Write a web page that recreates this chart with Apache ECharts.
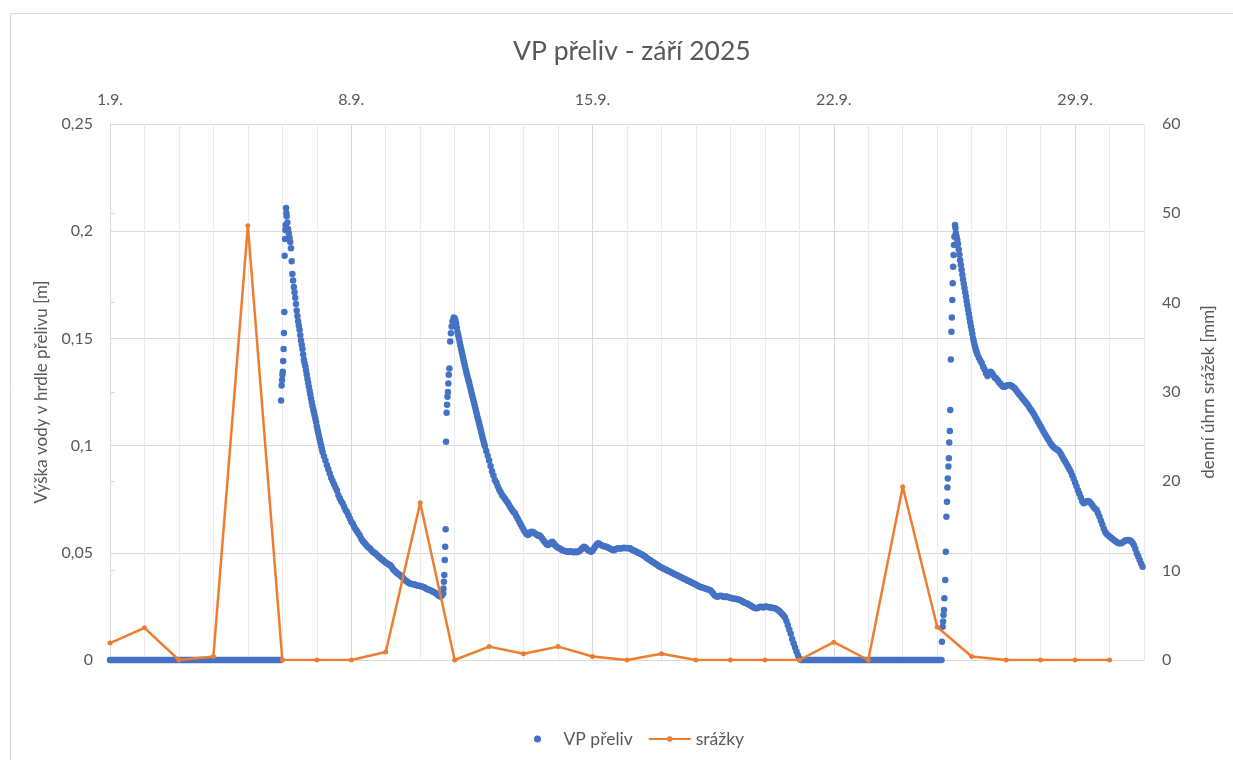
<!DOCTYPE html>
<html lang="cs">
<head>
<meta charset="utf-8">
<title>VP přeliv - září 2025</title>
<script src="https://cdn.jsdelivr.net/npm/echarts@6/dist/echarts.min.js"></script>
<style>
  html, body { margin: 0; padding: 0; background: #ffffff; }
  #chart { width: 1233px; height: 760px; }
</style>
</head>
<body>
<div id="chart"></div>
<script>
// Water level at the overflow throat [m], hourly readings, one array per day (hours 0-23).
// null = hour covered by the finer readings of a rising limb below.
const d01 = [0,0,0,0,0,0,0,0,0,0,0,0,0,0,0,0,0,0,0,0,0,0,0,0];
const d02 = [0,0,0,0,0,0,0,0,0,0,0,0,0,0,0,0,0,0,0,0,0,0,0,0];
const d03 = [0,0,0,0,0,0,0,0,0,0,0,0,0,0,0,0,0,0,0,0,0,0,0,0];
const d04 = [0,0,0,0,0,0,0,0,0,0,0,0,0,0,0,0,0,0,0,0,0,0,0,0];
const d05 = [0,0,0,0,0,0,0,0,0,0,0,0,0,0,0,0,0,0,0,0,0,0,0,0];
const d06 = [null,null,null,0.207,0.201,0.197,0.192,0.180,0.174,0.169,0.163,0.158,0.154,0.149,0.145,0.140,0.137,0.133,0.1293,0.1256,0.122,0.1185,0.1155,0.1125];
const d07 = [0.109,0.106,0.103,0.100,0.097,0.095,0.093,0.091,0.089,0.087,0.085,0.0835,0.082,0.0805,0.079,0.077,0.0755,0.074,0.073,0.0715,0.070,0.069,0.0675,0.066];
const d08 = [0.0645,0.0635,0.0622,0.061,0.060,0.059,0.058,0.0565,0.0555,0.0548,0.054,0.0532,0.0525,0.052,0.0512,0.0505,0.050,0.0495,0.049,0.0482,0.0478,0.047,0.0466,0.046];
const d09 = [0.0455,0.045,0.0446,0.0443,0.0435,0.0425,0.0418,0.041,0.0405,0.040,0.0395,0.0388,0.0382,0.0375,0.037,0.0365,0.036,0.0357,0.0355,0.0353,0.0352,0.035,0.0348,0.0346];
const d10 = [0.0345,0.0343,0.034,0.0338,0.0333,0.033,0.0328,0.0325,0.0322,0.0318,0.0315,0.031,0.0305,0.030,0.0296,0.030,0.031,null,null,null,null,null,null,null];
const d11 = [0.1594,0.157,0.153,0.150,0.1467,0.1435,0.1405,0.1375,0.1347,0.132,0.1295,0.1267,0.124,0.1213,0.1186,0.1158,0.113,0.1104,0.1077,0.105,0.1023,0.0998,0.0975,0.0953];
const d12 = [0.093,0.0905,0.088,0.086,0.084,0.0828,0.081,0.0795,0.0782,0.077,0.0762,0.0752,0.0742,0.0733,0.0722,0.071,0.070,0.069,0.0684,0.067,0.0658,0.0645,0.0632,0.062];
const d13 = [0.0608,0.0597,0.0588,0.0583,0.0588,0.0597,0.0598,0.0595,0.059,0.0585,0.058,0.0582,0.0575,0.0565,0.0556,0.0548,0.054,0.0536,0.054,0.0548,0.0552,0.0545,0.0535,0.0528];
const d14 = [0.0524,0.0521,0.0516,0.0512,0.0509,0.0507,0.0506,0.0505,0.0505,0.0507,0.0504,0.0502,0.0506,0.0503,0.0505,0.0508,0.0515,0.0522,0.0528,0.0525,0.0518,0.0512,0.0508,0.0505];
const d15 = [0.051,0.052,0.053,0.054,0.0544,0.054,0.0536,0.0533,0.053,0.0529,0.0527,0.0523,0.052,0.0516,0.0513,0.0512,0.0516,0.0519,0.0521,0.0521,0.052,0.0522,0.0523,0.0521];
const d16 = [0.0522,0.0521,0.0521,0.0517,0.0513,0.051,0.0507,0.0503,0.050,0.0497,0.0493,0.049,0.0485,0.048,0.0475,0.047,0.0466,0.0461,0.0457,0.0452,0.0448,0.0444,0.0439,0.0435];
const d17 = [0.0432,0.0428,0.0425,0.0422,0.0418,0.0415,0.0412,0.0408,0.0405,0.0401,0.0398,0.0395,0.0391,0.0388,0.0385,0.0381,0.0378,0.0375,0.0371,0.0368,0.0365,0.0362,0.0358,0.0355];
const d18 = [0.0352,0.0348,0.0344,0.0341,0.0339,0.0337,0.0335,0.0332,0.033,0.0328,0.0325,0.0318,0.031,0.0302,0.0297,0.0295,0.0298,0.030,0.0298,0.0295,0.0294,0.0296,0.0295,0.0292];
const d19 = [0.029,0.0288,0.0287,0.0286,0.0284,0.0283,0.0281,0.0279,0.0275,0.0271,0.0267,0.0265,0.0262,0.0258,0.0254,0.025,0.0246,0.0243,0.0241,0.0243,0.0246,0.0248,0.0247,0.0245];
const d20 = [0.0248,0.0249,0.0247,0.0246,0.0245,0.0244,0.0242,0.0241,0.0238,0.0233,0.0228,0.0222,0.0215,0.0208,0.0198,0.0182,0.0162,0.0142,0.0122,0.0098,0.0078,0.0058,0.004,0.0022];
const d21 = [0.0008,0,0,0,0,0,0,0,0,0,0,0,0,0,0,0,0,0,0,0,0,0,0,0];
const d22 = [0,0,0,0,0,0,0,0,0,0,0,0,0,0,0,0,0,0,0,0,0,0,0,0];
const d23 = [0,0,0,0,0,0,0,0,0,0,0,0,0,0,0,0,0,0,0,0,0,0,0,0];
const d24 = [0,0,0,0,0,0,0,0,0,0,0,0,0,0,0,0,0,0,0,0,0,0,0,0];
const d25 = [0,0,0,0,null,null,null,null,null,null,null,null,null,0.199,0.196,0.1915,0.1865,0.182,0.1775,0.1735,0.1695,0.1655,0.1615,0.1575];
const d26 = [0.1539,0.150,0.147,0.1445,0.1425,0.141,0.1397,0.1385,0.1368,0.1355,0.1338,0.1325,0.1335,0.1345,0.134,0.1328,0.1318,0.1314,0.1305,0.1296,0.1288,0.128,0.1275,0.1275];
const d27 = [0.1278,0.1281,0.1283,0.1282,0.1278,0.1272,0.1267,0.1258,0.1249,0.124,0.1232,0.1223,0.1215,0.1207,0.1199,0.119,0.118,0.117,0.116,0.115,0.1138,0.1126,0.1114,0.1102];
const d28 = [0.109,0.1078,0.1066,0.1054,0.1043,0.1032,0.1021,0.101,0.100,0.0993,0.0988,0.0983,0.098,0.0972,0.0962,0.095,0.0938,0.0927,0.0915,0.0903,0.0891,0.0878,0.0862,0.0845];
const d29 = [0.0828,0.081,0.0792,0.0775,0.0758,0.0741,0.0731,0.0735,0.0741,0.0742,0.0738,0.0731,0.0722,0.0713,0.0705,0.070,0.0685,0.0668,0.065,0.0632,0.0612,0.0597,0.0588,0.0582];
const d30 = [0.0576,0.057,0.0565,0.056,0.0555,0.055,0.0546,0.0544,0.0545,0.0548,0.0553,0.0557,0.0559,0.056,0.0558,0.0554,0.0547,0.0535,0.0518,0.0498,0.0483,0.0467,0.045,0.0435];

// Rising limbs, read at finer steps (hours since 1.9. 0:00).
const rise06Hours  = [119.1,119.5,119.8,120.1,120.3,120.6,120.9,121.1,121.4,121.6,121.9,122.1,122.3,122.6,122.8];
const rise06Levels = [0.121,0.128,0.1306,0.133,0.1345,0.1395,0.145,0.1525,0.1623,0.1886,0.1964,0.2006,0.2029,0.2108,0.2085];
const rise10Hours  = [232.2,232.5,232.8,233.1,233.4,233.7,234.0,234.4,234.7,235.0,235.3,235.6,235.9,236.3,236.9,237.4,237.9,238.5,239.3];
const rise10Levels = [0.0334,0.0365,0.0396,0.0466,0.0528,0.061,0.1018,0.1153,0.119,0.1228,0.125,0.129,0.133,0.136,0.1485,0.1524,0.1555,0.158,0.1597];
const rise25Hours  = [579.3,579.8,580.1,580.4,580.7,581.0,581.6,582.0,582.4,582.8,583.1,583.4,583.8,584.1,584.4,584.8,585.1,585.5,585.9,586.2,586.5,586.8,587.1,587.4,587.7,588.0,588.4];
const rise25Levels = [0.0085,0.0155,0.018,0.021,0.0233,0.0288,0.0373,0.0505,0.0668,0.0738,0.0805,0.0847,0.0902,0.0941,0.1015,0.1068,0.1166,0.1402,0.1531,0.1598,0.1679,0.1757,0.1834,0.1889,0.1936,0.1974,0.2029];

// Steep recessions after each peak, half-hour readings in between the hourly ones.
const fall06Hours  = [123.5,124.5,125.5,126.5,127.5,128.5,129.5,130.5,131.5,132.5,133.5,134.5,135.5,136.5,137.5,138.5,139.5,140.5,141.5,142.5,143.5,144.5,145.5,146.5,147.5];
const fall06Levels = [0.204,0.199,0.195,0.186,0.177,0.1715,0.166,0.1605,0.156,0.1515,0.147,0.1425,0.1385,0.135,0.1311,0.1275,0.1238,0.1202,0.117,0.114,0.111,0.1075,0.1045,0.1015,0.0985];
const fall11Hours  = [240.5,241.5,242.5,243.5,244.5,245.5,246.5,247.5,248.5,249.5,250.5,251.5,252.5,253.5,254.5,255.5,256.5,257.5,258.5,259.5,260.5];
const fall11Levels = [0.1585,0.155,0.1515,0.1483,0.145,0.142,0.139,0.1361,0.1333,0.1307,0.128,0.1253,0.1226,0.120,0.1172,0.1144,0.1117,0.109,0.1063,0.1036,0.101];
const fall25Hours  = [588.7,589.5,590.5,591.5,592.5,593.5,594.5,595.5,596.5,597.5,598.5,599.5,600.5,601.5,602.5,603.5];
const fall25Levels = [0.2015,0.1975,0.194,0.189,0.1842,0.1797,0.1755,0.1715,0.1675,0.1635,0.1595,0.1557,0.152,0.1485,0.1457,0.1435];

// Daily rainfall [mm], 1.9. - 30.9.
const rainMm = [1.9,3.6,0,0.4,48.6,0,0,0,0.9,17.6,0,1.5,0.7,1.5,0.4,0,0.7,0,0,0,0,2.0,0,19.4,3.7,0.4,0,0,0,0];

// Axis ticks
const weekTickDays = [0,7,14,21,28];
const weekTickLabels = ['1.9.','8.9.','15.9.','22.9.','29.9.'];

const levelDays = [d01,d02,d03,d04,d05,d06,d07,d08,d09,d10,d11,d12,d13,d14,d15,d16,d17,d18,d19,d20,d21,d22,d23,d24,d25,d26,d27,d28,d29,d30];

// x is measured in days since 1.9. 0:00
const levelPoints = [];
levelDays.forEach((day, d) => {
  day.forEach((v, h) => {
    if (v !== null) levelPoints.push([(d * 24 + h) / 24, v]);
  });
});
[
  [rise06Hours, rise06Levels], [rise10Hours, rise10Levels], [rise25Hours, rise25Levels],
  [fall06Hours, fall06Levels], [fall11Hours, fall11Levels], [fall25Hours, fall25Levels]
].forEach(([hours, levels]) => {
  hours.forEach((h, i) => levelPoints.push([h / 24, levels[i]]));
});
const rainPoints = rainMm.map((v, i) => [i, v]);

const GRAY_TEXT = '#595959';
const GRID_LINE = '#d9d9d9';
const FONT = 'Lato, "Open Sans", sans-serif';

const chart = echarts.init(document.getElementById('chart'), null, { renderer: 'canvas' });

chart.setOption({
  animation: false,
  backgroundColor: '#ffffff',
  textStyle: { fontFamily: FONT, color: GRAY_TEXT },
  title: {
    text: 'VP přeliv - září 2025',
    left: 508,
    top: 33,
    textStyle: { fontFamily: FONT, fontSize: 26.5, fontWeight: 'normal', color: GRAY_TEXT }
  },
  graphic: [{
    type: 'rect',
    silent: true,
    shape: { x: 10.5, y: 13.5, width: 1260, height: 800 },
    style: { fill: null, stroke: GRID_LINE, lineWidth: 1 }
  }],
  legend: {
    left: 529,
    top: 725,
    itemWidth: 42,
    itemHeight: 7,
    itemGap: 15,
    textStyle: { fontFamily: FONT, fontSize: 17.5, color: GRAY_TEXT },
    data: [
      { name: 'VP přeliv', icon: 'circle' },
      { name: 'srážky' }
    ]
  },
  grid: { left: 110, right: 89, top: 124, bottom: 100, containLabel: false },
  xAxis: [
    {
      // daily grid lines
      type: 'value',
      position: 'bottom',
      min: 0, max: 30, interval: 1,
      axisLine: { show: false },
      axisTick: { show: false },
      axisLabel: { show: false },
      splitLine: { show: true, lineStyle: { color: '#ebebeb', width: 1 } }
    },
    {
      // weekly labels on top
      type: 'value',
      position: 'top',
      min: 0, max: 30, interval: 7,
      axisLine: { show: true, lineStyle: { color: GRID_LINE, width: 1 } },
      axisTick: { show: true, length: 5, customValues: weekTickDays, lineStyle: { color: GRID_LINE } },
      axisLabel: {
        customValues: weekTickDays,
        margin: 16,
        fontSize: 16,
        color: GRAY_TEXT,
        formatter: v => weekTickLabels[weekTickDays.indexOf(v)] || ''
      },
      splitLine: { show: true, lineStyle: { color: GRID_LINE, width: 1 } }
    }
  ],
  yAxis: [
    {
      type: 'value',
      position: 'left',
      min: 0, max: 0.25, interval: 0.05,
      name: 'Výška vody v hrdle přelivu [m]',
      nameLocation: 'middle',
      nameGap: 60,
      nameTextStyle: { fontFamily: FONT, fontSize: 17, color: GRAY_TEXT },
      axisLine: { show: true, lineStyle: { color: GRID_LINE, width: 1 } },
      axisTick: { show: false },
      axisLabel: {
        margin: 17,
        fontSize: 16,
        color: GRAY_TEXT,
        formatter: v => String(+v.toFixed(2)).replace('.', ',')
      },
      splitLine: { show: true, lineStyle: { color: GRID_LINE, width: 1 } }
    },
    {
      type: 'value',
      position: 'right',
      min: 0, max: 60, interval: 10,
      name: 'denní úhrn srážek [mm]',
      nameLocation: 'middle',
      nameGap: 56,
      nameTextStyle: { fontFamily: FONT, fontSize: 17, color: GRAY_TEXT },
      axisLine: { show: true, lineStyle: { color: GRID_LINE, width: 1 } },
      axisTick: { show: true, length: 5, lineStyle: { color: GRID_LINE } },
      axisLabel: { margin: 18, fontSize: 16, color: GRAY_TEXT },
      splitLine: { show: false }
    }
  ],
  series: [
    {
      name: 'VP přeliv',
      type: 'scatter',
      xAxisIndex: 1,
      yAxisIndex: 0,
      symbol: 'circle',
      symbolSize: 6.5,
      itemStyle: { color: '#4472c4', opacity: 1 },
      data: levelPoints,
      z: 2
    },
    {
      name: 'srážky',
      type: 'line',
      xAxisIndex: 1,
      yAxisIndex: 1,
      symbol: 'circle',
      symbolSize: 5,
      showSymbol: true,
      lineStyle: { color: '#ed7d31', width: 2.5 },
      itemStyle: { color: '#ed7d31', borderWidth: 0 },
      data: rainPoints,
      z: 3
    }
  ]
});
</script>
</body>
</html>
